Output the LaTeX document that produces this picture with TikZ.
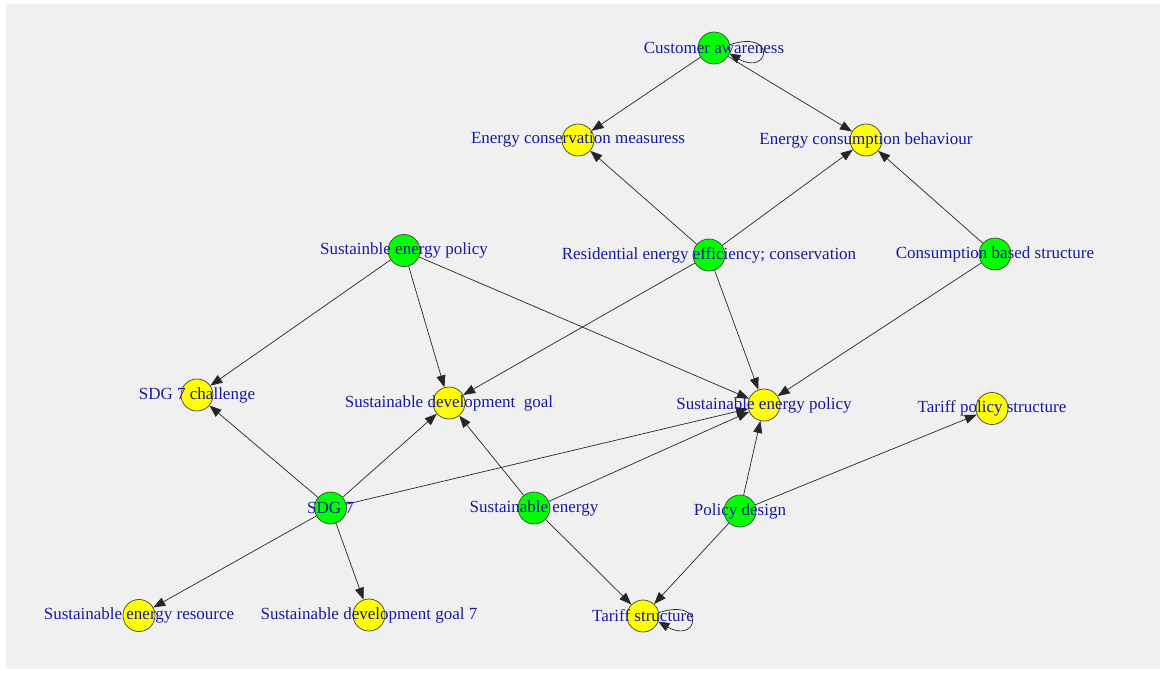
\documentclass[tikz,border=0pt]{standalone}
\usepackage{fontspec}
\setmainfont{Liberation Serif}
\usetikzlibrary{arrows.meta}
\definecolor{lbl}{RGB}{25,25,160}
\definecolor{panel}{RGB}{240,240,240}
\definecolor{vgreen}{RGB}{0,255,0}
\definecolor{vyellow}{RGB}{255,255,0}
\begin{document}
\begin{tikzpicture}[x=1pt,y=1pt,
  vbase/.style={circle, draw=black!75, minimum size=32pt, inner sep=0pt, line width=0.7pt},
  vg/.style={vbase, fill=vgreen},
  vy/.style={vbase, fill=vyellow},
  lab/.style={text=lbl, font=\fontsize{17}{19}\selectfont, inner sep=0pt},
  arr/.style={-{Triangle[length=12pt,width=9pt]}, line width=0.7pt, draw=black!85},
  selfloop/.style={-{Triangle[length=11pt,width=9pt]}, line width=0.7pt, draw=black!85}]
\useasboundingbox (0,0) rectangle (1164,-673);
\fill[white] (0,0) rectangle (1164,-673);
\fill[panel] (6,-4) rectangle (1160,-669);
% vertices
\node[vg] (ca)   at (714,-48) {};
\node[vy] (ecm)  at (578,-140) {};
\node[vy] (ecb)  at (866,-140) {};
\node[vg] (sep)  at (404,-250.5) {};
\node[vg] (rec)  at (709,-255) {};
\node[vg] (cbs)  at (995,-254) {};
\node[vy] (sdgc) at (197,-395) {};
\node[vy] (sdg)  at (449,-403) {};
\node[vy] (sep2) at (764,-405) {};
\node[vy] (tps)  at (992,-408.5) {};
\node[vg] (sdg7) at (330.5,-508) {};
\node[vg] (se)   at (534,-508) {};
\node[vg] (pd)   at (740,-511) {};
\node[vy] (ser)  at (139,-615.5) {};
\node[vy] (sdg7g) at (369,-615) {};
\node[vy] (ts)   at (643,-616) {};
% edges
\draw[arr] (ca) -- (ecm);
\draw[arr] (ca) -- (ecb);
\draw[selfloop] (ca.12) .. controls +(18:50) and +(-30:46) .. (ca.-20);
\draw[arr] (rec) -- (ecm);
\draw[arr] (rec) -- (ecb);
\draw[arr] (rec) -- (sdg);
\draw[arr] (rec) -- (sep2);
\draw[arr] (cbs) -- (ecb);
\draw[arr] (cbs) -- (sep2);
\draw[arr] (sep) -- (sdgc);
\draw[arr] (sep) -- (sdg);
\draw[arr] (sep) -- (sep2);
\draw[arr] (sdg7) -- (sdgc);
\draw[arr] (sdg7) -- (sdg);
\draw[arr] (sdg7) -- (sep2);
\draw[arr] (sdg7) -- (ser);
\draw[arr] (sdg7) -- (sdg7g);
\draw[arr] (se) -- (sdg);
\draw[arr] (se) -- (sep2);
\draw[arr] (se) -- (ts);
\draw[arr] (pd) -- (sep2);
\draw[arr] (pd) -- (tps);
\draw[arr] (pd) -- (ts);
\draw[selfloop] (ts.12) .. controls +(18:50) and +(-30:46) .. (ts.-20);
% labels
\node[lab] at (ca)   {Customer awareness};
\node[lab] at (ecm)  {Energy conservation measuress};
\node[lab] at (ecb)  {Energy consumption behaviour};
\node[lab] at (sep)  {Sustainble energy policy};
\node[lab] at (rec)  {Residential energy efficiency; conservation};
\node[lab] at (cbs)  {Consumption based structure};
\node[lab] at (sdgc) {SDG 7 challenge};
\node[lab] at (sdg)  {Sustainable development\ \ goal};
\node[lab] at (sep2) {Sustainable energy policy};
\node[lab] at (tps)  {Tariff policy structure};
\node[lab] at (sdg7) {SDG 7};
\node[lab] at (se)   {Sustainable energy};
\node[lab] at (pd)   {Policy design};
\node[lab] at (ser)  {Sustainable energy resource};
\node[lab] at (sdg7g) {Sustainable development goal 7};
\node[lab] at (ts)   {Tariff structure};
\end{tikzpicture}
\end{document}
